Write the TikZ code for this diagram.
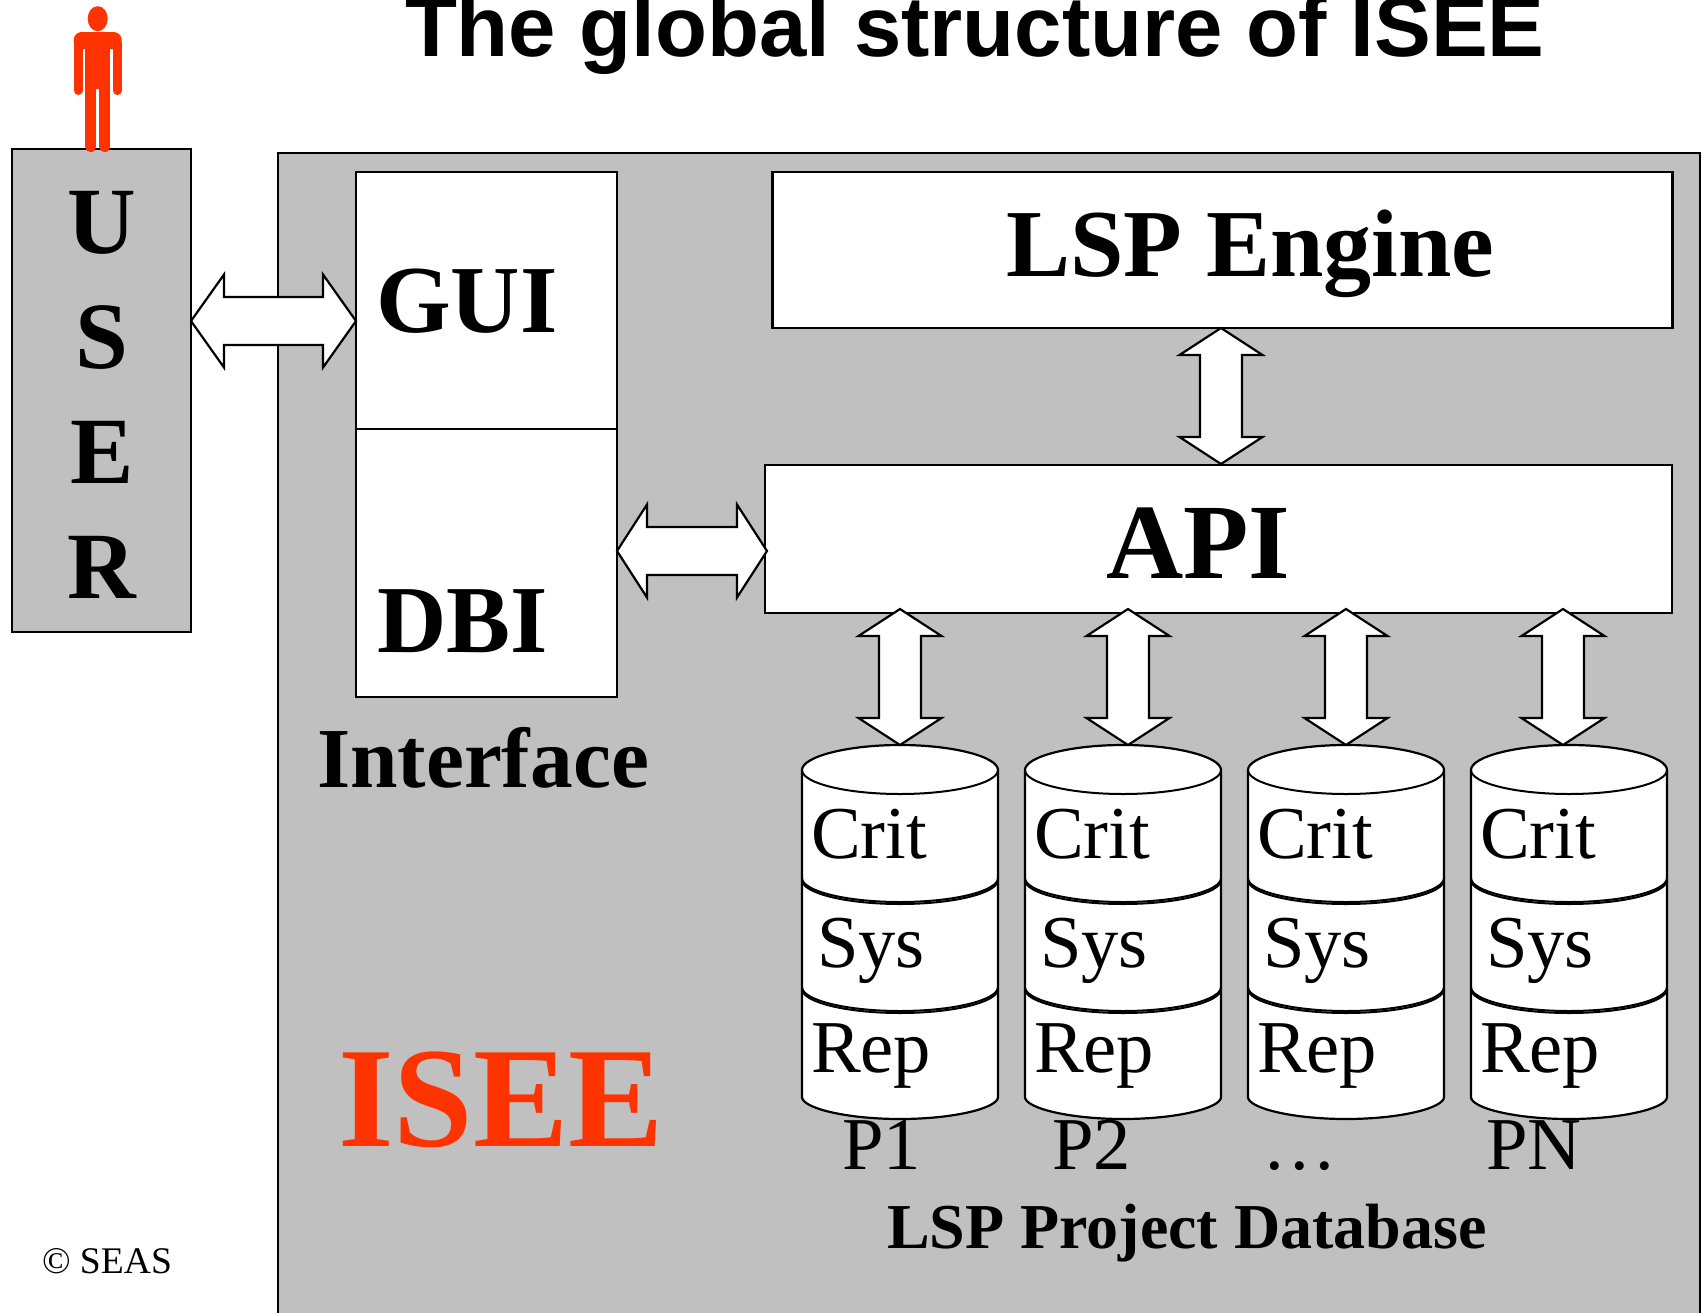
\documentclass[tikz,border=0pt]{standalone}
\usepackage{fontspec}
\setmainfont{Liberation Serif}
\newfontfamily\titlefont{Liberation Sans}
\usetikzlibrary{calc}
\definecolor{panelgrey}{HTML}{C0C0C0}
\definecolor{iseered}{HTML}{FF3300}
\newcommand{\fsz}[1]{\fontsize{#1}{#1}\selectfont}
\tikzset{
  box/.style={draw=black,line width=1.1pt,anchor=north west,inner sep=0pt,outer sep=0pt},
  greybox/.style={box,fill=panelgrey},
  whitebox/.style={box,fill=white},
  lab/.style={anchor=base west,inner sep=0pt,outer sep=0pt,text=black},
  biglab/.style={lab,font=\bfseries\fsz{48}},
  midlab/.style={lab,font=\fsz{37.3}},
  blockarrow/.style={draw=black,fill=white,line width=1.1pt,line join=miter,miter limit=10},
  cyl/.style={draw=black,fill=white,line width=1.1pt},
  limb/.style={draw=iseered,line cap=round}
}
% #1,#2 end coordinates; #3 head length; #4 half head width; #5 half shaft width
\newcommand{\harrow}[5]{\draw[blockarrow] (#1)
  -- ($(#1)+(#3,-#4)$) -- ($(#1)+(#3,-#5)$) -- ($(#2)+(-#3,-#5)$) -- ($(#2)+(-#3,-#4)$)
  -- (#2)
  -- ($(#2)+(-#3,#4)$) -- ($(#2)+(-#3,#5)$) -- ($(#1)+(#3,#5)$) -- ($(#1)+(#3,#4)$) -- cycle;}
\newcommand{\varrow}[5]{\draw[blockarrow] (#1)
  -- ($(#1)+(#4,#3)$) -- ($(#1)+(#5,#3)$) -- ($(#2)+(#5,-#3)$) -- ($(#2)+(#4,-#3)$)
  -- (#2)
  -- ($(#2)+(-#4,-#3)$) -- ($(#2)+(-#5,-#3)$) -- ($(#1)+(-#5,#3)$) -- ($(#1)+(-#4,#3)$) -- cycle;}
% lower half of an ellipse from left (#1,#2) to right side, width 196
\newcommand{\lowarc}[2]{\draw[line width=1pt] (#1,#2) .. controls (#1,#2+13) and (#1+44,#2+24) .. (#1+98,#2+24) .. controls (#1+152,#2+24) and (#1+196,#2+13) .. (#1+196,#2);}
\begin{document}
\begin{tikzpicture}[x=0.5pt,y=-0.5pt]
\useasboundingbox (0,0) rectangle (1705,1313);
% panels
\node[greybox,minimum width=711pt,minimum height=588.5pt] (isee) at (278,153) {};
\node[greybox,minimum width=89.5pt,minimum height=241.5pt] (user) at (12,149) {};
% person
\fill[iseered] (97.7,18.7) ellipse [x radius=10,y radius=12.5];
\fill[iseered,rounded corners=4pt] (73.7,49) -- (73.7,32) -- (121.7,32) -- (121.7,49) -- cycle;
\fill[iseered] (73.7,42) rectangle (121.7,49);
\fill[iseered] (85,40) rectangle (110,88.7);
\draw[limb,line width=4.5pt] (78.2,45) -- (78.2,90.5);
\draw[limb,line width=4.5pt] (117.2,45) -- (117.2,90.5);
\draw[limb,line width=5.65pt] (90.65,70) -- (90.65,146.5);
\draw[limb,line width=5.65pt] (104.65,70) -- (104.65,146.5);
% boxes
\node[whitebox,minimum width=130.5pt,minimum height=128.5pt] (gui) at (356,172) {};
\node[whitebox,minimum width=130.5pt,minimum height=134pt] (dbi) at (356,429) {};
\node[whitebox,minimum width=450pt,minimum height=78pt] (engine) at (772.5,172) {};
\node[whitebox,minimum width=453.5pt,minimum height=74pt] (api) at (765,465) {};
% cylinders
\foreach \i/\x in {1/802,2/1025,3/1248,4/1471}{
  \draw[cyl] (\x,770) -- (\x,1097) .. controls (\x,1108) and (\x+44,1119) .. (\x+98,1119) .. controls (\x+152,1119) and (\x+196,1108) .. (\x+196,1097) -- (\x+196,770)
     .. controls (\x+196,757) and (\x+152,745) .. (\x+98,745) .. controls (\x+44,745) and (\x,757) .. (\x,770) -- cycle;
  \draw[line width=1pt] (\x,770) .. controls (\x,783) and (\x+44,794) .. (\x+98,794) .. controls (\x+152,794) and (\x+196,783) .. (\x+196,770);
  \lowarc{\x}{878}
  \lowarc{\x}{880}
  \lowarc{\x}{987}
  \lowarc{\x}{989}
  \coordinate (db\i) at (\x+98,745);
}
% connector ends
\coordinate (aL) at (user.east |- 0,321);
\coordinate (aR) at (gui.west |- 0,321);
\coordinate (bL) at (dbi.east |- 0,551);
\coordinate (bR) at ($(api.west |- 0,551)+(2,0)$);
\coordinate (cT) at (1221,328);
\coordinate (cB) at (1221,464);
\coordinate (d1T) at (900,609);
\coordinate (d1B) at (db1);
\coordinate (d2T) at (1128,609);
\coordinate (d2B) at (1128,745);
\coordinate (d3T) at (1346,609);
\coordinate (d3B) at (1346,745);
\coordinate (d4T) at (1563,609);
\coordinate (d4B) at (1563,745);
% connectors
\harrow{aL}{aR}{33}{46.5}{24}
\harrow{bL}{bR}{30}{46.5}{24}
\varrow{cT}{cB}{27}{41.5}{21}
\varrow{d1T}{d1B}{27}{41.5}{21}
\varrow{d2T}{d2B}{27}{41.5}{21}
\varrow{d3T}{d3B}{27}{41.5}{21}
\varrow{d4T}{d4B}{27}{41.5}{21}
% title
\node[lab,font=\titlefont\bfseries\fsz{42.55}] (title) at (405,56) {The global structure of ISEE};
% user letters
\node[lab,anchor=base,font=\bfseries\fsz{47.5}] (lu) at (102,253) {U};
\node[lab,anchor=base,font=\bfseries\fsz{47.5}] (ls) at (102,368) {S};
\node[lab,anchor=base,font=\bfseries\fsz{47.5}] (le) at (102,483) {E};
\node[lab,anchor=base,font=\bfseries\fsz{47.5}] (lr) at (102,598) {R};
% labels
\node[biglab] (guit) at (376,332) {GUI};
\node[biglab] (dbit) at (377,652) {DBI};
\node[lab,font=\bfseries\fsz{48}] (enginet) at (1006,276) {LSP Engine};
\node[lab,font=\bfseries\fsz{53.5}] (apit) at (1106,578) {API};
\node[lab,font=\bfseries\fsz{42.7}] (ifacet) at (317,787) {Interface};
\node[lab,font=\bfseries\fsz{71.5},text=iseered] (iseet) at (338,1146) {ISEE};
\node[lab,font=\fsz{18.8}] (seas) at (42,1273) {© SEAS};
\node[lab,font=\bfseries\fsz{32}] (lspdb) at (887,1248) {LSP Project Database};
\foreach \i/\x in {1/811,2/1034,3/1257,4/1480}{
  \node[midlab] (crit\i) at (\x,858) {Crit};
  \node[midlab] (sys\i) at (\x+6,967) {Sys};
  \node[midlab] (rep\i) at (\x,1072) {Rep};
}
\node[midlab] (p1) at (842,1169) {P1};
\node[midlab] (p2) at (1052,1169) {P2};
\node[midlab] (p3) at (1262,1169) {\dots};
\node[midlab] (pn) at (1486,1169) {PN};
\end{tikzpicture}
\end{document}
